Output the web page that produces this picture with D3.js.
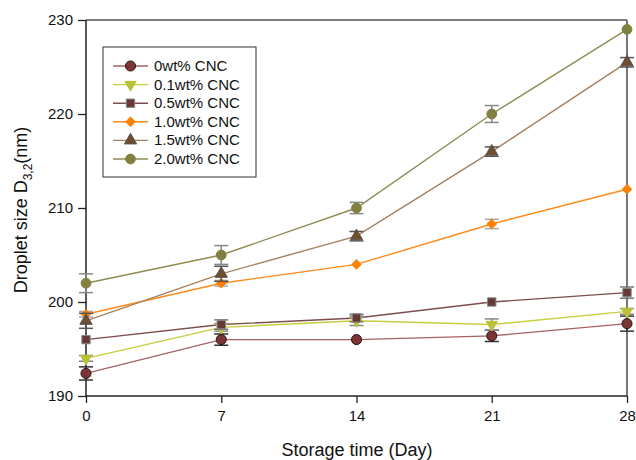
<!DOCTYPE html>
<html><head><meta charset="utf-8">
<script src="https://cdn.jsdelivr.net/npm/d3@7"></script>
<style>body{margin:0;background:#fff;}text{font-family:"Liberation Sans",Arial,sans-serif;}</style>
</head><body><svg id="c" width="636" height="460"></svg>
<script>
const days = [0, 7, 14, 21, 28];
const yTicks = [190, 200, 210, 220, 230];
const seriesNames = ["0wt% CNC", "0.1wt% CNC", "0.5wt% CNC", "1.0wt% CNC", "1.5wt% CNC", "2.0wt% CNC"];
const v0 = [192.4, 196.0, 196.0, 196.4, 197.7];
const v01 = [194.0, 197.3, 198.0, 197.6, 199.0];
const v05 = [196.0, 197.6, 198.3, 200.0, 201.0];
const v10 = [198.7, 202.0, 204.0, 208.3, 212.0];
const v15 = [198.0, 203.0, 207.0, 216.0, 225.5];
const v20 = [202.0, 205.0, 210.0, 220.0, 229.0];
const e0 = [0.7, 0.6, 0.0, 0.6, 0.8];
const e01 = [0.3, 0.4, 0.5, 0.6, 0.3];
const e05 = [0.0, 0.5, 0.4, 0.0, 0.6];
const e10 = [0.3, 0.3, 0.0, 0.5, 0.0];
const e15 = [0.8, 0.8, 0.5, 0.5, 0.5];
const e20 = [1.0, 1.0, 0.6, 0.9, 0.0];

const styles = [
  {line:"#a86262", fill:"#7b3535", stroke:"#2a1515", sym:d3.symbolCircle, size:80, err:"#333", rot:0},
  {line:"#c6cf3c", fill:"#b9c13a", stroke:"#b9c13a", sym:d3.symbolTriangle, size:55, err:"#888", rot:180},
  {line:"#7d4d4d", fill:"#663838", stroke:"#888", sym:d3.symbolSquare, size:70, err:"#777", rot:0},
  {line:"#ff8a1a", fill:"#ff7f00", stroke:"#ff7f00", sym:d3.symbolSquare, size:42, err:"#aaa", rot:45},
  {line:"#a3825f", fill:"#6e4e2c", stroke:"#555", sym:d3.symbolTriangle, size:65, err:"#555", rot:0},
  {line:"#8e8c52", fill:"#818041", stroke:"#818041", sym:d3.symbolCircle, size:75, err:"#888", rot:0}
];
const vals = [v0, v01, v05, v10, v15, v20];
const errs = [e0, e01, e05, e10, e15, e20];

const svg = d3.select("#c");
const x = d3.scaleLinear().domain([0, 28]).range([86, 627]);
const y = d3.scaleLinear().domain([190, 230]).range([396, 20]);

svg.append("line").attr("x1",86).attr("x2",627).attr("y1",20).attr("y2",20).attr("stroke","#555").attr("stroke-width",1.5);
svg.append("line").attr("x1",627).attr("x2",627).attr("y1",20).attr("y2",396).attr("stroke","#777").attr("stroke-width",2);

const yAxis = svg.append("g").attr("transform","translate(86,0)")
  .call(d3.axisLeft(y).tickValues(yTicks).tickSize(8).tickPadding(5));
const xAxis = svg.append("g").attr("transform","translate(0,396)")
  .call(d3.axisBottom(x).tickValues(days).tickSize(7).tickPadding(7));
[yAxis, xAxis].forEach(g => {
  g.select(".domain").attr("stroke","#222").attr("stroke-width",1.5);
  g.selectAll(".tick line").attr("stroke","#222").attr("stroke-width",1.3);
  g.selectAll("text").attr("font-size",15).attr("fill","#111").attr("font-family","Liberation Sans, Arial, sans-serif");
});
yAxis.select(".domain").attr("d","M0,396V20");
xAxis.select(".domain").attr("d","M86,0H627");

function sym(s){ return d3.symbol().type(s.sym).size(s.size)(); }

const line = d3.line().x((d,i)=>x(days[i])).y(d=>y(d));
vals.forEach((v,k)=>{
  const s = styles[k];
  svg.append("path").attr("d", line(v)).attr("fill","none").attr("stroke", s.line).attr("stroke-width",1.4);
});
vals.forEach((v,k)=>{
  const s = styles[k];
  const g = svg.append("g");
  v.forEach((val,i)=>{
    const e = errs[k][i];
    const cx = x(days[i]);
    if (e > 0) {
      g.append("line").attr("x1",cx).attr("x2",cx).attr("y1",y(val+e)).attr("y2",y(val-e)).attr("stroke",s.err).attr("stroke-width",1.5);
      [val+e, val-e].forEach(t=>g.append("line").attr("x1",cx-7).attr("x2",cx+7).attr("y1",y(t)).attr("y2",y(t)).attr("stroke",s.err).attr("stroke-width",1.5));
    }
    g.append("path").attr("d", sym(s))
      .attr("transform", `translate(${cx},${y(val)}) rotate(${s.rot})`)
      .attr("fill", s.fill).attr("stroke", s.stroke).attr("stroke-width",1);
  });
});

const lg = svg.append("g");
lg.append("rect").attr("x",103).attr("y",47).attr("width",153).attr("height",130).attr("fill","#fff").attr("stroke","#333").attr("stroke-width",1);
seriesNames.forEach((n,k)=>{
  const s = styles[k];
  const ly = 66 + k*18.6;
  lg.append("line").attr("x1",113).attr("x2",148).attr("y1",ly).attr("y2",ly).attr("stroke",s.line).attr("stroke-width",1.4);
  lg.append("path").attr("d", sym(s)).attr("transform",`translate(130.5,${ly}) rotate(${s.rot})`)
    .attr("fill",s.fill).attr("stroke",s.stroke).attr("stroke-width",1);
  lg.append("text").attr("x",154).attr("y",ly+5).attr("font-size",15).attr("fill","#111").text(n);
});

svg.append("text").attr("x",357).attr("y",456).attr("text-anchor","middle").attr("font-size",18).attr("fill","#111").text("Storage time (Day)");
const yt = svg.append("text").attr("transform","translate(27,210) rotate(-90)").attr("text-anchor","middle").attr("font-size",18).attr("fill","#111");
yt.append("tspan").text("Droplet size D");
yt.append("tspan").attr("font-size",12).attr("dy",5).text("3,2");
yt.append("tspan").attr("dy",-5).text("(nm)");
</script></body></html>
